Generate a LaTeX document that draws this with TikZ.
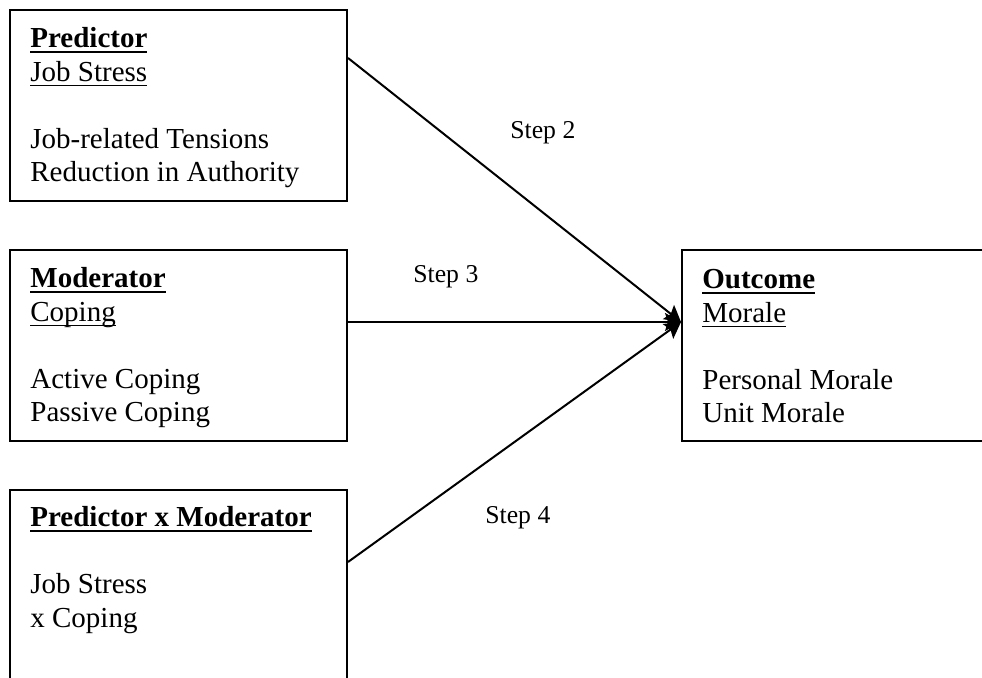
\documentclass[tikz,border=0pt]{standalone}
\usepackage{fontspec}
\setmainfont{Liberation Serif}
\usetikzlibrary{arrows.meta}
\newcommand\ulbf[1]{\setbox0\hbox{\textbf{#1}}\rlap{\rule[-2.7pt]{\wd0}{1pt}}\box0}
\newcommand\ulrm[1]{\setbox0\hbox{#1}\rlap{\rule[-2.4pt]{\wd0}{0.75pt}}\box0}
\begin{document}
\begin{tikzpicture}[x=0.5pt,y=-0.5pt,
  box/.style={draw,line width=1pt,inner sep=0pt,anchor=north west},
  txt/.style={inner sep=0pt,anchor=base west,font=\fontsize{14.5}{16.75}\selectfont},
  steplbl/.style={inner sep=0pt,anchor=base west,font=\fontsize{12.85}{15}\selectfont},
  arr/.style={line width=1pt,-{Stealth[length=8pt,width=9pt,inset=1.5pt]}}]
\useasboundingbox (0,0) rectangle (982,678);
\fill[white] (0,0) rectangle (982,678);
% boxes
\node[box,minimum width=168.5pt,minimum height=95.5pt] (pred) at (9,9) {};
\node[box,minimum width=168.5pt,minimum height=95.5pt] (mod) at (9,249) {};
\node[box,minimum width=168.5pt,minimum height=110pt] (pxm) at (9,489) {};
\node[box,minimum width=165pt,minimum height=95.5pt] (out) at (681,249) {};
% texts
\node[txt] (predT) at (30,48) {\begin{tabular}[t]{@{}l@{}}\ulbf{Predictor}\\ \ulrm{Job Stress}\\ \\ Job-related Tensions\\ Reduction in Authority\end{tabular}};
\node[txt] (modT) at (30,288) {\begin{tabular}[t]{@{}l@{}}\ulbf{Moderator}\\ \ulrm{Coping}\\ \\ Active Coping\\ Passive Coping\end{tabular}};
\node[txt] (pxmT) at (30,527) {\begin{tabular}[t]{@{}l@{}}\ulbf{Predictor x Moderator}\\ \\ Job Stress\\ x Coping\end{tabular}};
\node[txt] (outT) at (702,289) {\begin{tabular}[t]{@{}l@{}}\ulbf{Outcome}\\ \ulrm{Morale}\\ \\ Personal Morale\\ Unit Morale\end{tabular}};
% connectors
\draw[arr] ([yshift=-24.5pt]pred.north east) -- ([yshift=-36.5pt]out.north west);
\draw[arr] ([yshift=-36.5pt]mod.north east) -- ([yshift=-36.5pt]out.north west);
\draw[arr] ([yshift=-36.5pt]pxm.north east) -- ([yshift=-36.5pt]out.north west);
% step labels
\node[steplbl] (s2) at (510,139) {Step 2};
\node[steplbl] (s3) at (413,283) {Step 3};
\node[steplbl] (s4) at (485,524) {Step 4};
\end{tikzpicture}
\end{document}
